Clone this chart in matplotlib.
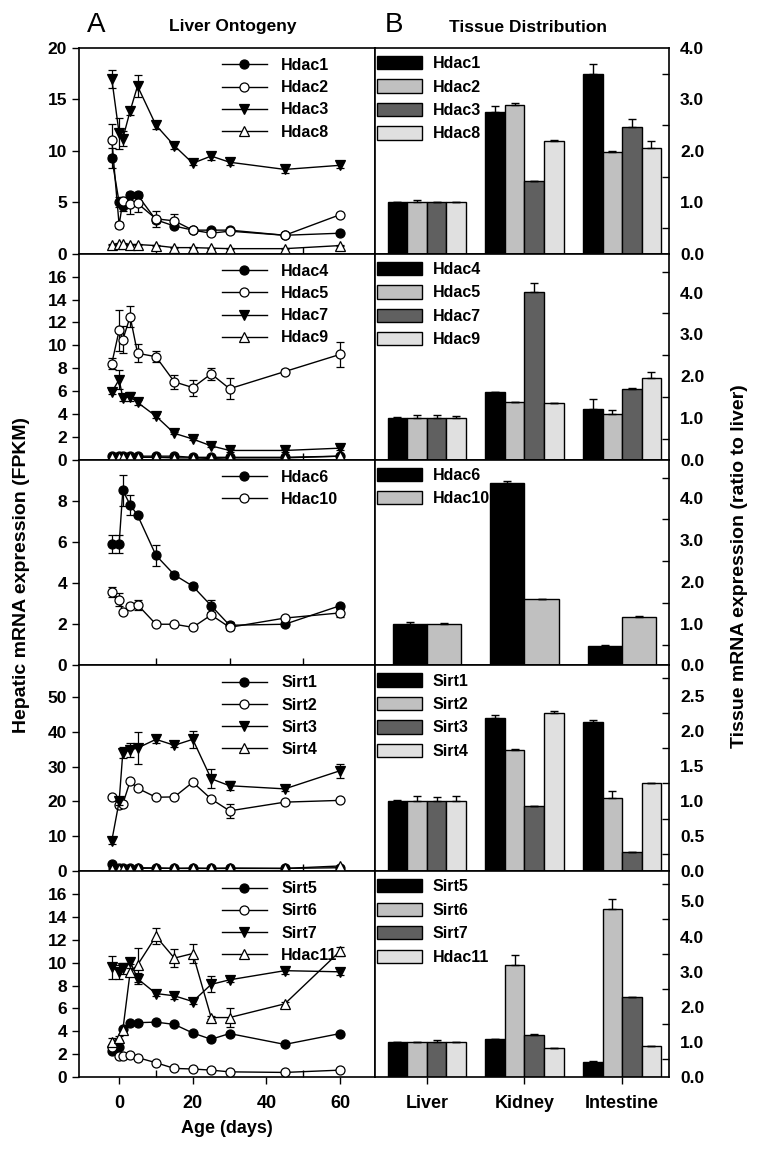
import matplotlib
matplotlib.use("Agg")
import matplotlib.pyplot as plt
import numpy as np
from matplotlib.ticker import MultipleLocator, FixedLocator, FormatStrFormatter
from matplotlib.lines import Line2D
from matplotlib.patches import Patch

plt.rcParams['font.family'] = ['Liberation Sans', 'DejaVu Sans']
plt.rcParams['font.weight'] = 'bold'

# ---------------- data: liver ontogeny ----------------
days = [-2, 0, 1, 3, 5, 10, 15, 20, 25, 30, 45, 60]

hdac1 = [9.3, 5.0, 4.6, 5.7, 5.7, 3.3, 2.7, 2.3, 2.3, 2.3, 1.8, 2.0]
hdac1_err = [1.0, 0.5, 0.4, 0.3, 0.3, 0.3, 0.2, 0.2, 0.2, 0.2, 0.1, 0.1]
hdac2 = [11.1, 2.8, 5.1, 4.8, 4.9, 3.4, 3.2, 2.3, 2.0, 2.2, 1.8, 3.8]
hdac2_err = [1.5, 0.3, 0.4, 0.9, 0.8, 0.8, 0.7, 0.2, 0.2, 0.2, 0.2, 0.2]
hdac3 = [17.0, 11.7, 11.2, 13.9, 16.3, 12.5, 10.5, 8.8, 9.5, 8.9, 8.2, 8.6]
hdac3_err = [0.9, 1.5, 0.7, 0.4, 1.1, 0.4, 0.3, 0.2, 0.4, 0.3, 0.3, 0.3]
hdac8 = [0.9, 1.0, 1.0, 0.9, 0.9, 0.8, 0.6, 0.6, 0.55, 0.5, 0.5, 0.8]
hdac8_err = [0.05] * 12

hdac4 = [0.3, 0.3, 0.3, 0.3, 0.3, 0.3, 0.3, 0.2, 0.2, 0.2, 0.2, 0.3]
hdac4_err = [0.05] * 12
hdac5 = [8.4, 11.3, 10.5, 12.5, 9.3, 9.0, 6.8, 6.3, 7.5, 6.2, 7.7, 9.2]
hdac5_err = [0.5, 1.8, 1.2, 0.9, 0.8, 0.5, 0.6, 0.7, 0.5, 0.9, 0.2, 1.1]
hdac7 = [5.9, 7.0, 5.4, 5.5, 5.0, 3.8, 2.3, 1.8, 1.2, 0.8, 0.8, 1.0]
hdac7_err = [0.2, 0.8, 0.3, 0.4, 0.2, 0.2, 0.1, 0.1, 0.1, 0.1, 0.1, 0.2]
hdac9 = [0.2, 0.2, 0.2, 0.2, 0.2, 0.2, 0.15, 0.15, 0.1, 0.15, 0.15, 0.3]
hdac9_err = [0.05] * 12

hdac6 = [5.9, 5.9, 8.5, 7.8, 7.3, 5.35, 4.4, 3.85, 2.9, 1.95, 2.0, 2.9]
hdac6_err = [0.45, 0.45, 0.75, 0.5, 0.1, 0.5, 0.15, 0.15, 0.3, 0.15, 0.05, 0.1]
hdac10 = [3.55, 3.2, 2.6, 2.9, 2.95, 2.0, 2.0, 1.85, 2.45, 1.85, 2.3, 2.55]
hdac10_err = [0.25, 0.3, 0.1, 0.1, 0.25, 0.05, 0.05, 0.05, 0.1, 0.15, 0.05, 0.2]

sirt1 = [2.2, 1.0, 1.0, 1.0, 1.0, 0.9, 0.8, 0.8, 0.8, 0.8, 0.8, 1.0]
sirt1_err = [0.2] * 12
sirt2 = [21.3, 19.0, 19.3, 25.8, 23.8, 21.2, 21.3, 25.5, 20.7, 17.3, 19.8, 20.3]
sirt2_err = [0.3, 0.5, 0.5, 0.5, 0.5, 0.3, 0.3, 0.5, 0.5, 2.0, 0.3, 0.3]
sirt3 = [8.7, 20.0, 34.0, 34.8, 35.3, 37.8, 36.1, 37.8, 26.5, 24.5, 23.6, 28.8]
sirt3_err = [1.0, 1.0, 1.5, 2.0, 4.5, 1.0, 0.5, 2.5, 2.7, 1.3, 0.7, 2.0]
sirt4 = [0.7, 0.7, 0.7, 0.7, 0.8, 0.9, 0.8, 0.9, 0.8, 0.9, 0.8, 1.5]
sirt4_err = [0.1] * 12

sirt5 = [2.25, 2.6, 4.2, 4.75, 4.75, 4.8, 4.6, 3.85, 3.3, 3.8, 2.85, 3.8]
sirt5_err = [0.1] * 12
sirt6 = [2.6, 1.85, 1.85, 1.95, 1.7, 1.25, 0.75, 0.7, 0.6, 0.45, 0.4, 0.6]
sirt6_err = [0.1] * 12
sirt7 = [9.6, 9.2, 9.5, 10.1, 8.6, 7.3, 7.1, 6.6, 8.1, 8.5, 9.3, 9.2]
sirt7_err = [1.0, 0.6, 0.5, 0.2, 0.5, 0.2, 0.3, 0.2, 0.7, 0.2, 0.3, 0.3]
hdac11 = [3.1, 3.4, 4.1, 9.2, 9.8, 12.3, 10.4, 10.8, 5.2, 5.2, 6.4, 11.0]
hdac11_err = [0.3, 0.2, 0.3, 0.3, 1.5, 0.7, 0.8, 0.8, 0.1, 0.8, 0.2, 0.4]

# ---------------- data: tissue distribution ----------------
tissues = ['Liver', 'Kidney', 'Intestine']

t_hdac1 = [1.0, 2.75, 3.5];   t_hdac1_err = [0.01, 0.12, 0.18]
t_hdac2 = [1.0, 2.9, 1.97];   t_hdac2_err = [0.05, 0.03, 0.03]
t_hdac3 = [1.0, 1.42, 2.47];  t_hdac3_err = [0.01, 0.0, 0.15]
t_hdac8 = [1.0, 2.2, 2.06];   t_hdac8_err = [0.01, 0.02, 0.13]

t_hdac4 = [1.0, 1.61, 1.21];  t_hdac4_err = [0.01, 0.01, 0.23]
t_hdac5 = [1.0, 1.39, 1.09];  t_hdac5_err = [0.06, 0.0, 0.10]
t_hdac7 = [1.0, 4.02, 1.70];  t_hdac7_err = [0.08, 0.20, 0.02]
t_hdac9 = [1.0, 1.35, 1.96];  t_hdac9_err = [0.05, 0.01, 0.13]

t_hdac6 = [1.0, 4.37, 0.47];  t_hdac6_err = [0.04, 0.05, 0.03]
t_hdac10 = [1.0, 1.58, 1.15]; t_hdac10_err = [0.01, 0.01, 0.04]

t_sirt1 = [1.0, 2.18, 2.12];  t_sirt1_err = [0.01, 0.04, 0.03]
t_sirt2 = [1.0, 1.73, 1.04];  t_sirt2_err = [0.07, 0.01, 0.10]
t_sirt3 = [1.0, 0.93, 0.27];  t_sirt3_err = [0.05, 0.0, 0.01]
t_sirt4 = [1.0, 2.25, 1.25];  t_sirt4_err = [0.07, 0.03, 0.005]

t_sirt5 = [1.0, 1.08, 0.44];  t_sirt5_err = [0.01, 0.01, 0.02]
t_sirt6 = [1.0, 3.20, 4.77];  t_sirt6_err = [0.0, 0.26, 0.30]
t_sirt7 = [1.0, 1.19, 2.27];  t_sirt7_err = [0.04, 0.04, 0.0]
t_hdac11 = [1.0, 0.82, 0.89]; t_hdac11_err = [0.01, 0.0, 0.0]

# ---------------- styling ----------------
W, H = 763, 1152
fig = plt.figure(figsize=(W / 100, H / 100), dpi=100)

def fx(px):
    return px / W

def fy(py):
    return 1 - py / H

top_px, bot_px = 48, 1077
row_h = (bot_px - top_px) / 5
lx0, lx1 = 79, 375
rx0, rx1 = 375, 669

LEG_FS = 11.5
TICK_FS = 12.5
SP_LW = 1.2

line_styles = [
    dict(marker='o', mfc='black', mec='black'),
    dict(marker='o', mfc='white', mec='black'),
    dict(marker='v', mfc='black', mec='black'),
    dict(marker='^', mfc='white', mec='black'),
]
bar_colors = ['#000000', '#c0c0c0', '#606060', '#e0e0e0']

left_panels = [
    (['Hdac1', 'Hdac2', 'Hdac3', 'Hdac8'],
     [hdac1, hdac2, hdac3, hdac8], [hdac1_err, hdac2_err, hdac3_err, hdac8_err],
     (0, 20), [0, 5, 10, 15, 20]),
    (['Hdac4', 'Hdac5', 'Hdac7', 'Hdac9'],
     [hdac4, hdac5, hdac7, hdac9], [hdac4_err, hdac5_err, hdac7_err, hdac9_err],
     (0, 18), [0, 2, 4, 6, 8, 10, 12, 14, 16]),
    (['Hdac6', 'Hdac10'],
     [hdac6, hdac10], [hdac6_err, hdac10_err],
     (0, 10), [0, 2, 4, 6, 8]),
    (['Sirt1', 'Sirt2', 'Sirt3', 'Sirt4'],
     [sirt1, sirt2, sirt3, sirt4], [sirt1_err, sirt2_err, sirt3_err, sirt4_err],
     (0, 59), [0, 10, 20, 30, 40, 50]),
    (['Sirt5', 'Sirt6', 'Sirt7', 'Hdac11'],
     [sirt5, sirt6, sirt7, hdac11], [sirt5_err, sirt6_err, sirt7_err, hdac11_err],
     (0, 18), [0, 2, 4, 6, 8, 10, 12, 14, 16]),
]

right_panels = [
    (['Hdac1', 'Hdac2', 'Hdac3', 'Hdac8'],
     [t_hdac1, t_hdac2, t_hdac3, t_hdac8], [t_hdac1_err, t_hdac2_err, t_hdac3_err, t_hdac8_err],
     (0, 4.0), 1.0, 0.5),
    (['Hdac4', 'Hdac5', 'Hdac7', 'Hdac9'],
     [t_hdac4, t_hdac5, t_hdac7, t_hdac9], [t_hdac4_err, t_hdac5_err, t_hdac7_err, t_hdac9_err],
     (0, 4.93), 1.0, 0.5),
    (['Hdac6', 'Hdac10'],
     [t_hdac6, t_hdac10], [t_hdac6_err, t_hdac10_err],
     (0, 4.93), 1.0, 0.5),
    (['Sirt1', 'Sirt2', 'Sirt3', 'Sirt4'],
     [t_sirt1, t_sirt2, t_sirt3, t_sirt4], [t_sirt1_err, t_sirt2_err, t_sirt3_err, t_sirt4_err],
     (0, 2.93), 0.5, 0.25),
    (['Sirt5', 'Sirt6', 'Sirt7', 'Hdac11'],
     [t_sirt5, t_sirt6, t_sirt7, t_hdac11], [t_sirt5_err, t_sirt6_err, t_sirt7_err, t_hdac11_err],
     (0, 5.86), 1.0, 0.5),
]

for i in range(5):
    ytop = top_px + i * row_h
    ybot = ytop + row_h
    # ---------- left: ontogeny ----------
    axl = fig.add_axes([fx(lx0), fy(ybot), fx(lx1 - lx0), (ybot - ytop) / H])
    names, series, errs, ylim, yticks = left_panels[i]
    handles = []
    for k, (nm, s, e) in enumerate(zip(names, series, errs)):
        st = line_styles[k]
        axl.errorbar(days, s, yerr=e, color='black', lw=1.0, elinewidth=0.9,
                     capsize=3, capthick=0.9, marker=st['marker'], ms=6.5,
                     mfc=st['mfc'], mec=st['mec'], mew=0.9, zorder=3 + k)
        handles.append(Line2D([], [], color='black', lw=1.0, marker=st['marker'],
                              ms=6.5, mfc=st['mfc'], mec=st['mec'], mew=0.9))
    axl.set_xlim(-10.9, 69.5)
    axl.set_ylim(*ylim)
    axl.yaxis.set_major_locator(FixedLocator(yticks))
    axl.xaxis.set_major_locator(FixedLocator([0, 20, 40, 60]))
    axl.xaxis.set_minor_locator(FixedLocator([10, 30, 50]))
    axl.tick_params(axis='y', which='major', direction='out', length=5, width=1.0,
                    labelsize=TICK_FS, pad=3.5)
    axl.tick_params(axis='x', which='minor', direction='in', length=5, width=1.0)
    if i == 4:
        axl.tick_params(axis='x', which='major', direction='out', length=5, width=1.0,
                        labelsize=TICK_FS + 0.5, pad=8)
        axl.set_xlabel('Age (days)', fontsize=13, fontweight='bold', labelpad=6)
    else:
        axl.tick_params(axis='x', which='major', length=0, labelbottom=False)
    for sp in axl.spines.values():
        sp.set_linewidth(SP_LW)
    axl.legend(handles, names, loc='upper left',
               bbox_to_anchor=((222 - lx0) / (lx1 - lx0), 1 - 10 / row_h),
               frameon=False, handlelength=2.8,
               handletextpad=0.9, labelspacing=0.45, borderpad=0,
               borderaxespad=0, prop={'weight': 'bold', 'size': LEG_FS})

    # ---------- right: tissue ----------
    axr = fig.add_axes([fx(rx0), fy(ybot), fx(rx1 - rx0), (ybot - ytop) / H])
    names, series, errs, ylim, major, minor = right_panels[i]
    n = len(names)
    x = np.arange(len(tissues))
    bw = 0.2 if n == 4 else 0.35
    phandles = []
    for k, (nm, s, e) in enumerate(zip(names, series, errs)):
        pos = x + (k - (n - 1) / 2) * bw
        axr.bar(pos, s, width=bw, color=bar_colors[k], edgecolor='black',
                linewidth=1.0, zorder=2)
        axr.errorbar(pos, s, yerr=[np.zeros(len(s)), e], fmt='none',
                     ecolor='black', elinewidth=1.0, capsize=3, capthick=1.0, zorder=3)
        phandles.append(Patch(facecolor=bar_colors[k], edgecolor='black', linewidth=1.0))
    axr.set_xlim(-0.53, 2.48)
    axr.set_ylim(*ylim)
    axr.yaxis.tick_right()
    axr.yaxis.set_label_position('right')
    axr.yaxis.set_major_locator(MultipleLocator(major))
    axr.yaxis.set_minor_locator(MultipleLocator(minor))
    axr.yaxis.set_major_formatter(FormatStrFormatter('%.1f'))
    axr.tick_params(axis='y', which='major', direction='out', length=0,
                    labelsize=TICK_FS, pad=8)
    axr.tick_params(axis='y', which='minor', direction='in', length=5, width=1.0)
    axr.set_xticks(x)
    if i == 4:
        axr.set_xticklabels(tissues, fontsize=TICK_FS + 0.5, fontweight='bold')
        axr.tick_params(axis='x', direction='out', length=5, width=1.0, pad=8)
    else:
        axr.tick_params(axis='x', direction='out', length=5, width=1.0, labelbottom=False)
    for sp in axr.spines.values():
        sp.set_linewidth(SP_LW)
    axr.legend(phandles, names, loc='upper left',
               bbox_to_anchor=((377 - rx0) / (rx1 - rx0), 1 - 8 / row_h),
               frameon=False, handlelength=2.8, handleheight=0.9,
               handletextpad=0.7, labelspacing=0.52, borderpad=0, borderaxespad=0,
               prop={'weight': 'bold', 'size': LEG_FS})

# ---------------- texts ----------------
fig.text(fx(96), fy(25), 'A', fontsize=20, fontweight='normal', ha='center', va='center')
fig.text(fx(233), fy(27), 'Liver Ontogeny', fontsize=12.5, fontweight='bold',
         ha='center', va='center')
fig.text(fx(394), fy(25), 'B', fontsize=20, fontweight='normal', ha='center', va='center')
fig.text(fx(528), fy(27), 'Tissue Distribution', fontsize=12.5, fontweight='bold',
         ha='center', va='center')
fig.text(fx(22), fy(575), 'Hepatic mRNA expression (FPKM)', fontsize=14,
         fontweight='bold', rotation=90, ha='center', va='center')
fig.text(fx(740), fy(566), 'Tissue mRNA expression (ratio to liver)', fontsize=14,
         fontweight='bold', rotation=90, ha='center', va='center')

fig.savefig('out.png', dpi=100)
